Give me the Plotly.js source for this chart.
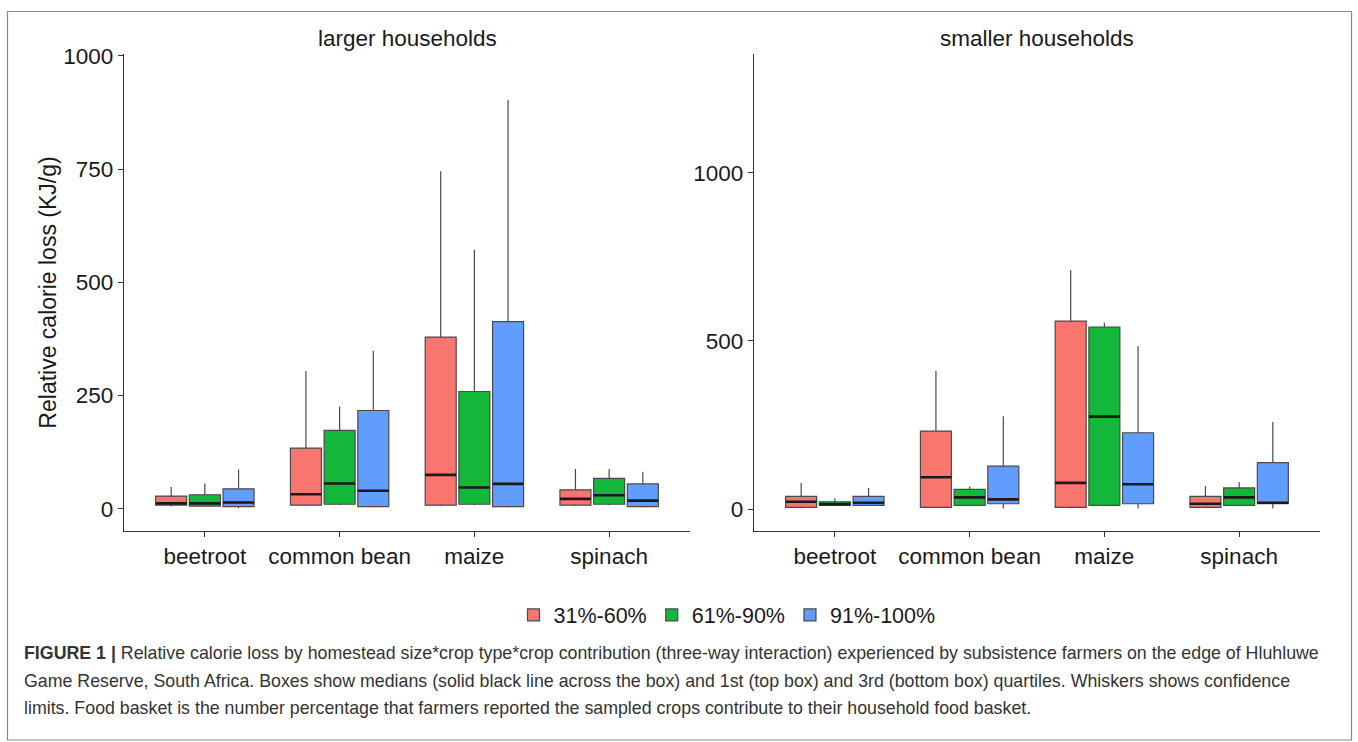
<!DOCTYPE html>
<html>
<head>
<meta charset="utf-8">
<script src="https://cdn.plot.ly/plotly-3.0.1.min.js"></script>
<style>html,body{margin:0;padding:0;background:#fff;}#chart{width:1358px;height:742px;}</style>
</head>
<body>
<div id="chart"></div>
<script>
// ---- data ----
const categories = ['beetroot', 'common bean', 'maize', 'spinach'];
const groups = ['31%-60%', '61%-90%', '91%-100%'];
const colors = ['#F8766D', '#13B73A', '#619CFF'];

// larger households
const larger_31_upper = [48, 304, 745, 88];
const larger_31_q3    = [28, 134, 379, 42];
const larger_31_med   = [12, 32, 75, 22];
const larger_31_q1    = [8, 8, 8, 8];
const larger_31_low   = [5, 6, 6, 6];

const larger_61_upper = [56, 226, 572, 88];
const larger_61_q3    = [31, 173, 259, 67];
const larger_61_med   = [12, 56, 47, 30];
const larger_61_q1    = [6, 10, 10, 10];
const larger_61_low   = [5, 8, 8, 8];

const larger_91_upper = [87, 349, 903, 82];
const larger_91_q3    = [44, 217, 413, 55];
const larger_91_med   = [14, 40, 55, 18];
const larger_91_q1    = [5, 5, 5, 5];
const larger_91_low   = [2, 3, 3, 3];

// smaller households
const smaller_31_upper = [78, 411, 711, 69];
const smaller_31_q3    = [38, 232, 559, 38];
const smaller_31_med   = [22, 95, 78, 16];
const smaller_31_q1    = [5, 5, 5, 5];
const smaller_31_low   = [3, 3, 3, 3];

const smaller_61_upper = [32, 67, 554, 81];
const smaller_61_q3    = [22, 59, 541, 63];
const smaller_61_med   = [15, 35, 275, 35];
const smaller_61_q1    = [11, 11, 11, 11];
const smaller_61_low   = [9, 9, 9, 9];

const smaller_91_upper = [63, 276, 484, 259];
const smaller_91_q3    = [38, 128, 227, 138];
const smaller_91_med   = [19, 29, 74, 19];
const smaller_91_q1    = [11, 16, 16, 16];
const smaller_91_low   = [9, 2, 2, 2];

const leftTicks = [0, 250, 500, 750, 1000];
const rightTicks = [0, 500, 1000];

const panelTitles = ['larger households', 'smaller households'];
const yTitle = 'Relative calorie loss (KJ/g)';
const captionLines = [
  '<b>FIGURE 1 |</b> Relative calorie loss by homestead size*crop type*crop contribution (three-way interaction) experienced by subsistence farmers on the edge of Hluhluwe',
  'Game Reserve, South Africa. Boxes show medians (solid black line across the box) and 1st (top box) and 3rd (bottom box) quartiles. Whiskers shows confidence',
  'limits. Food basket is the number percentage that farmers reported the sampled crops contribute to their household food basket.'
];

// ---- build ----
const W = 1358, H = 742;
const px = v => v / W;
const py = v => 1 - v / H;

const largerSets = [
  [larger_31_low, larger_31_q1, larger_31_med, larger_31_q3, larger_31_upper],
  [larger_61_low, larger_61_q1, larger_61_med, larger_61_q3, larger_61_upper],
  [larger_91_low, larger_91_q1, larger_91_med, larger_91_q3, larger_91_upper]
];
const smallerSets = [
  [smaller_31_low, smaller_31_q1, smaller_31_med, smaller_31_q3, smaller_31_upper],
  [smaller_61_low, smaller_61_q1, smaller_61_med, smaller_61_q3, smaller_61_upper],
  [smaller_91_low, smaller_91_q1, smaller_91_med, smaller_91_q3, smaller_91_upper]
];

const traces = [];
function addPanel(sets, xa, ya, showLegend, panel) {
  sets.forEach((s, i) => {
    traces.push({
      type: 'box',
      name: groups[i],
      legendgroup: groups[i],
      showlegend: showLegend,
      alignmentgroup: panel, offsetgroup: panel + i,
      x: categories,
      lowerfence: s[0], q1: s[1], median: s[2], q3: s[3], upperfence: s[4],
      boxpoints: false,
      fillcolor: colors[i],
      line: {color: '#4a4a4a', width: 1.2},
      whiskerwidth: 0,
      xaxis: xa, yaxis: ya,
      hoverinfo: 'skip'
    });
  });
  // thick black median bars (ggplot style), overlaid in the same slots
  sets.forEach((s, i) => {
    traces.push({
      type: 'box',
      name: groups[i] + ' median',
      showlegend: false,
      alignmentgroup: panel, offsetgroup: panel + i,
      x: categories,
      lowerfence: s[2], q1: s[2], median: s[2], q3: s[2], upperfence: s[2],
      boxpoints: false,
      fillcolor: 'rgba(0,0,0,0)',
      line: {color: '#1a1a1a', width: 2.6},
      whiskerwidth: 0,
      xaxis: xa, yaxis: ya,
      hoverinfo: 'skip'
    });
  });
}
addPanel(largerSets, 'x', 'y', true, 'L');
addPanel(smallerSets, 'x2', 'y2', false, 'R');

const font = 'Liberation Sans, Arial, sans-serif';
const axisCommon = {
  showline: true, linecolor: '#333', linewidth: 1.2,
  ticks: 'outside', ticklen: 5, tickcolor: '#333', tickwidth: 1,
  showgrid: false, zeroline: false,
  tickfont: {family: font, size: 22.5, color: '#1a1a1a'},
  fixedrange: true
};

const layout = {
  width: W, height: H,
  margin: {l: 0, r: 0, t: 0, b: 0},
  paper_bgcolor: '#fff', plot_bgcolor: '#fff',
  font: {family: font, color: '#1a1a1a'},
  boxmode: 'group', boxgap: 0.25, boxgroupgap: 0.08,
  xaxis: Object.assign({}, axisCommon, {
    domain: [px(124), px(690)], anchor: 'y',
    type: 'category', categoryarray: categories, categoryorder: 'array',
    range: [-0.6, 3.6]
  }),
  yaxis: Object.assign({}, axisCommon, {
    domain: [py(531), py(54)], anchor: 'x',
    range: [-49, 1004], tickvals: leftTicks, ticktext: leftTicks.map(String),
    title: {text: yTitle, font: {family: font, size: 23, color: '#1a1a1a'}, standoff: 0}
  }),
  xaxis2: Object.assign({}, axisCommon, {
    domain: [px(754), px(1320)], anchor: 'y2',
    type: 'category', categoryarray: categories, categoryorder: 'array',
    range: [-0.6, 3.6]
  }),
  yaxis2: Object.assign({}, axisCommon, {
    domain: [py(531), py(54)], anchor: 'x2',
    range: [-65, 1353], tickvals: rightTicks, ticktext: rightTicks.map(String)
  }),
  showlegend: true,
  legend: {
    orientation: 'h', x: px(727), xanchor: 'center', y: py(615), yanchor: 'middle',
    font: {family: font, size: 21.5, color: '#1a1a1a'},
    itemwidth: 30, tracegroupgap: 0, bgcolor: 'rgba(0,0,0,0)'
  },
  annotations: [
    {text: panelTitles[0], xref: 'paper', yref: 'paper', x: px(407), y: py(38), xanchor: 'center', yanchor: 'middle', showarrow: false, font: {family: font, size: 22.5, color: '#1a1a1a'}},
    {text: panelTitles[1], xref: 'paper', yref: 'paper', x: px(1037), y: py(38), xanchor: 'center', yanchor: 'middle', showarrow: false, font: {family: font, size: 22.5, color: '#1a1a1a'}}
  ].concat(captionLines.map((t, i) => ({
    text: t, xref: 'paper', yref: 'paper', x: px(22), y: py(653 + i * 27.5),
    xanchor: 'left', yanchor: 'middle', showarrow: false, align: 'left',
    font: {family: font, size: 17.8, color: '#333'}
  }))),
  shapes: [
    {type: 'rect', xref: 'paper', yref: 'paper', x0: px(7.5), x1: px(1351.5), y0: py(740), y1: py(11.5), line: {color: '#8a8a8a', width: 1.2}, fillcolor: 'rgba(0,0,0,0)'}
  ]
};

Plotly.newPlot('chart', traces, layout, {displayModeBar: false, staticPlot: true});
</script>
</body>
</html>
